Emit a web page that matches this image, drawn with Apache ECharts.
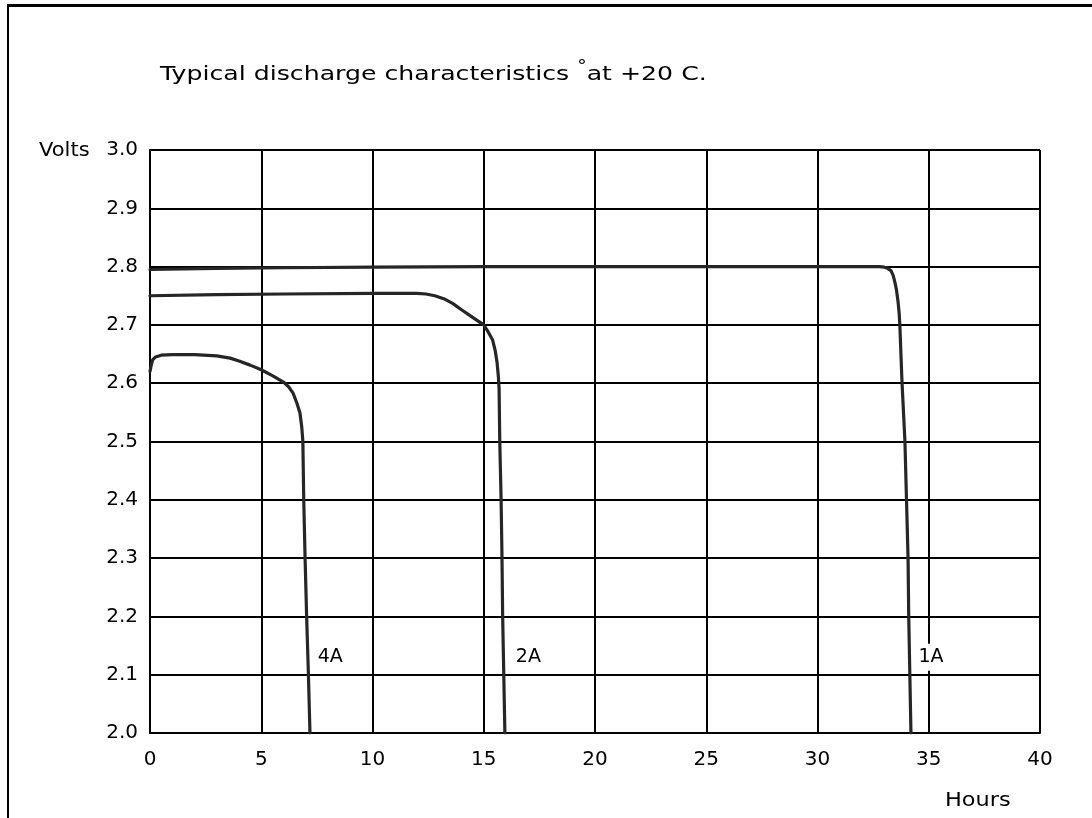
<!DOCTYPE html>
<html>
<head>
<meta charset="utf-8">
<script src="https://cdn.jsdelivr.net/npm/echarts@6/dist/echarts.min.js"></script>
<style>
html,body{margin:0;padding:0;background:#fff;}
#c{width:1092px;height:818px;}
</style>
</head>
<body>
<div id="c"></div>
<script>
// ---- data ----
const titleText = 'Typical discharge characteristics ';
const xTicks = [0, 5, 10, 15, 20, 25, 30, 35, 40];
const yTicks = [2.0, 2.1, 2.2, 2.3, 2.4, 2.5, 2.6, 2.7, 2.8, 2.9, 3.0];

const curve1A = [[0,2.795],[3,2.797],[6,2.798],[10,2.799],[15,2.800],[20,2.800],[25,2.800],[30,2.800],[32.8,2.800],[33.0,2.799],[33.15,2.797],[33.3,2.793],[33.4,2.785],[33.48,2.773],[33.55,2.760],[33.62,2.740],[33.67,2.720],[33.7,2.700],[33.8,2.600],[33.93,2.500],[34.0,2.400],[34.07,2.300],[34.1,2.200],[34.15,2.100],[34.2,2.000]];
const curve2A = [[0,2.750],[3,2.752],[6,2.753],[10,2.754],[12,2.754],[12.4,2.753],[12.8,2.750],[13.2,2.745],[13.6,2.737],[14.0,2.726],[14.5,2.713],[15.0,2.700],[15.2,2.688],[15.4,2.674],[15.52,2.655],[15.6,2.635],[15.66,2.610],[15.69,2.590],[15.72,2.500],[15.78,2.400],[15.82,2.300],[15.85,2.200],[15.9,2.100],[15.95,2.000]];
const curve4A = [[0,2.620],[0.05,2.630],[0.12,2.640],[0.25,2.645],[0.5,2.648],[1,2.649],[2,2.649],[3,2.647],[3.6,2.643],[4.0,2.638],[4.5,2.631],[5.0,2.623],[5.5,2.613],[6.0,2.602],[6.25,2.593],[6.43,2.583],[6.6,2.566],[6.74,2.549],[6.82,2.525],[6.87,2.500],[6.91,2.400],[6.97,2.300],[7.04,2.200],[7.12,2.100],[7.19,2.000]];

const curveLabels = [
  {name: '4A', value: [7.45, 2.13]},
  {name: '2A', value: [16.35, 2.13]},
  {name: '1A', value: [34.45, 2.13]}
];

const FONT = 'DejaVu Sans';
const chart = echarts.init(document.getElementById('c'), null, {renderer: 'canvas'});

function curve(name, data) {
  return {
    name: name, type: 'line', data: data, showSymbol: false, symbol: 'none',
    smooth: false,
    lineStyle: {color: '#262626', width: 3.2, join: 'round', cap: 'round'}, z: 3, silent: true
  };
}

chart.setOption({
  animation: false,
  backgroundColor: '#fff',
  grid: {left: 150, top: 150, right: 52, bottom: 85, containLabel: false},
  xAxis: {
    type: 'value', min: 0, max: 40, interval: 5,
    axisLine: {show: true, onZero: false, lineStyle: {color: '#000', width: 2}},
    axisTick: {show: false},
    splitLine: {show: true, lineStyle: {color: '#000', width: 2}},
    axisLabel: {color: '#000', fontFamily: FONT, fontSize: 20, margin: 17,
      formatter: v => xTicks.includes(v) ? String(v) : ''}
  },
  yAxis: {
    type: 'value', min: 2.0, max: 3.0, interval: 0.1,
    axisLine: {show: true, lineStyle: {color: '#000', width: 2}},
    axisTick: {show: false},
    splitLine: {show: true, lineStyle: {color: '#000', width: 2}},
    axisLabel: {color: '#000', fontFamily: FONT, fontSize: 20, margin: 12,
      formatter: v => v.toFixed(1)}
  },
  series: [
    curve('1A', curve1A),
    curve('2A', curve2A),
    curve('4A', curve4A),
    {
      type: 'scatter', data: curveLabels, symbolSize: 0, z: 5, silent: true,
      itemStyle: {color: '#000', opacity: 1},
      label: {show: true, position: 'right', distance: 0, formatter: p => p.name,
        color: '#000', opacity: 1, fontFamily: FONT, fontSize: 19,
        backgroundColor: '#fff', padding: [4, 2, 4, 2]}
    }
  ],
  graphic: [
    {type: 'line', shape: {x1: 7, y1: 5.5, x2: 1092, y2: 5.5}, style: {stroke: '#000', lineWidth: 3}},
    {type: 'line', shape: {x1: 8, y1: 4, x2: 8, y2: 818}, style: {stroke: '#000', lineWidth: 2}},
    {type: 'text', x: 160, y: 60, scaleX: 1.26, style: {
      text: '{a|' + titleText + '}{d|°}{a|at +20 C.}',
      rich: {
        a: {fontFamily: FONT, fontSize: 20, fill: '#000'},
        d: {fontFamily: FONT, fontSize: 15, fill: '#000', padding: [0, 0, 14, 0]}
      }}},
    {type: 'text', x: 39, y: 141, scaleX: 1.05, style: {text: 'Volts', fontFamily: FONT, fontSize: 20, fill: '#000'}},
    {type: 'text', x: 945, y: 791, scaleX: 1.12, style: {text: 'Hours', fontFamily: FONT, fontSize: 20, fill: '#000'}}
  ]
});
</script>
</body>
</html>
